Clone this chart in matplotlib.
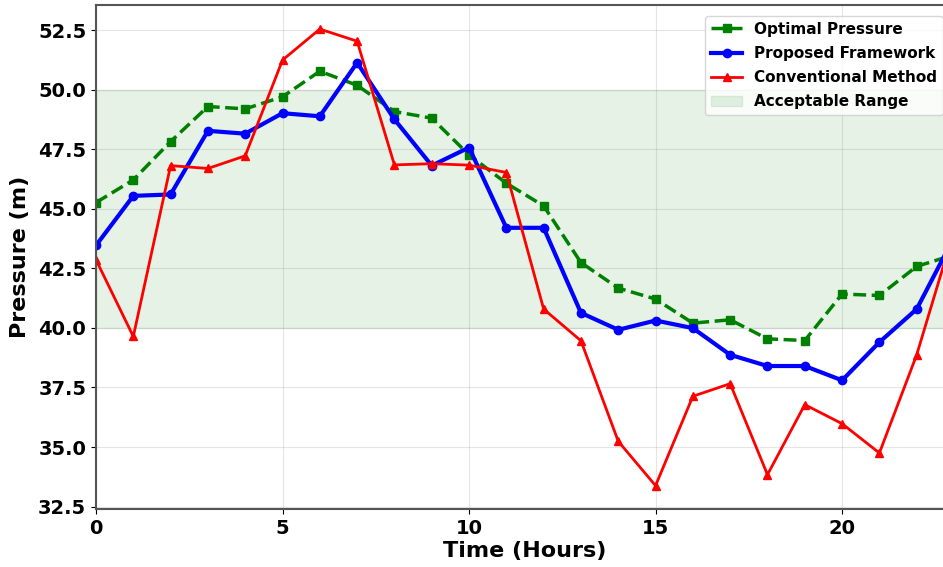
import matplotlib
matplotlib.use('Agg')
import matplotlib.pyplot as plt
import numpy as np

# data
hours = np.arange(24)
optimal = [45.26, 46.21, 47.82, 49.29, 49.19, 49.70, 50.77, 50.18, 49.08, 48.80,
           47.26, 46.07, 45.12, 42.74, 41.67, 41.21, 40.20, 40.34, 39.54, 39.47,
           41.42, 41.36, 42.58, 43.07]
proposed = [43.46, 45.54, 45.60, 48.27, 48.15, 49.01, 48.88, 51.13, 48.75, 46.81,
            47.57, 44.20, 44.20, 40.63, 39.92, 40.31, 39.99, 38.87, 38.40, 38.40,
            37.80, 39.40, 40.79, 43.80]
conventional = [42.86, 39.64, 46.81, 46.69, 47.22, 51.24, 52.54, 52.03, 46.84, 46.89,
                46.83, 46.52, 40.79, 39.46, 35.24, 33.38, 37.13, 37.66, 33.84, 36.78,
                35.98, 34.75, 38.87, 44.08]
range_low, range_high = 40, 50

fig = plt.figure(figsize=(9.43, 5.67), dpi=100)
# axes run a little past the right edge, like the cropped original
ax = fig.add_axes([96/943, 58/567, 858/943, 504/567])

ax.axhspan(range_low, range_high, color='green', alpha=0.1, label='Acceptable Range')
ax.plot(hours, optimal, 'g--', marker='s', lw=2.5, ms=6, label='Optimal Pressure')
ax.plot(hours, proposed, 'b-', marker='o', lw=3, ms=6, label='Proposed Framework')
ax.plot(hours, conventional, 'r-', marker='^', lw=2, ms=6, label='Conventional Method')

ax.set_xlim(0, 23)
ax.set_ylim(32.4, 53.55)
ax.set_xticks([0, 5, 10, 15, 20])
ax.set_yticks(np.arange(32.5, 53, 2.5))
ax.yaxis.set_major_formatter(matplotlib.ticker.FormatStrFormatter('%.1f'))

ax.set_xlabel('Time (Hours)', fontsize=16, fontweight='bold', labelpad=2)
ax.set_ylabel('Pressure (m)', fontsize=16, fontweight='bold', labelpad=6)
for lab in ax.get_xticklabels() + ax.get_yticklabels():
    lab.set_fontweight('bold')
ax.tick_params(labelsize=14)

ax.grid(True, color='gray', alpha=0.2)
for s in ax.spines.values():
    s.set_color('#555555')
    s.set_linewidth(1.5)

h, l = ax.get_legend_handles_labels()
order = [1, 2, 3, 0]
leg = ax.legend([h[i] for i in order], [l[i] for i in order], loc='upper right',
                prop={'weight': 'bold', 'size': 11}, labelspacing=0.6,
                borderaxespad=0.7)

fig.savefig('out.png', dpi=100)
